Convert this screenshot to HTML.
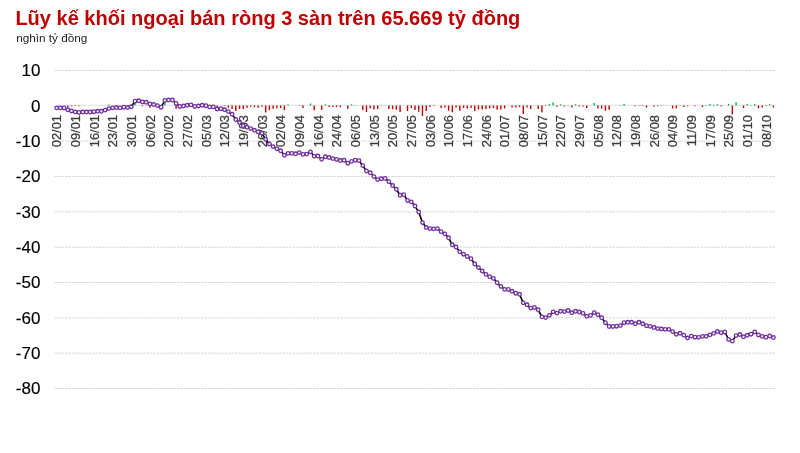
<!DOCTYPE html>
<html lang="vi"><head><meta charset="utf-8"><title>Lũy kế khối ngoại bán ròng</title>
<style>html,body{margin:0;padding:0;background:#fff}body{width:800px;height:453px;overflow:hidden}svg{display:block}</style>
</head><body>
<svg width="800" height="453" viewBox="0 0 800 453">
<rect width="800" height="453" fill="#fff"/>
<g stroke="#d5d5d5" stroke-width="1" stroke-dasharray="2.4 1" fill="none">
<path d="M54.8 70.50H775.3"/>
<path d="M54.8 141.16H775.3"/>
<path d="M54.8 176.50H775.3"/>
<path d="M54.8 211.83H775.3"/>
<path d="M54.8 247.16H775.3"/>
<path d="M54.8 282.50H775.3"/>
<path d="M54.8 317.83H775.3"/>
<path d="M54.8 353.16H775.3"/>
<path d="M54.8 388.49H775.3"/>
</g>
<path d="M56 105.25H775.3" stroke="#d4d4d4" stroke-width="0.7" fill="none"/>
<g font-family="'Liberation Sans', Arial, Helvetica, sans-serif" font-size="17" fill="#000" stroke="#000" stroke-width="0.15" text-anchor="end">
<text x="40.4" y="76.40">10</text>
<text x="40.4" y="111.73">0</text>
<text x="40.4" y="147.06">-10</text>
<text x="40.4" y="182.40">-20</text>
<text x="40.4" y="217.73">-30</text>
<text x="40.4" y="253.06">-40</text>
<text x="40.4" y="288.39">-50</text>
<text x="40.4" y="323.73">-60</text>
<text x="40.4" y="359.06">-70</text>
<text x="40.4" y="394.39">-80</text>
</g>
<g font-family="'Liberation Sans', Arial, Helvetica, sans-serif" font-size="12.9" fill="#3a3a3a" stroke="#3a3a3a" stroke-width="0.25" text-anchor="end">
<text transform="translate(61.35 115.0) rotate(-90)">02/01</text>
<text transform="translate(80.02 115.0) rotate(-90)">09/01</text>
<text transform="translate(98.68 115.0) rotate(-90)">16/01</text>
<text transform="translate(117.35 115.0) rotate(-90)">23/01</text>
<text transform="translate(136.02 115.0) rotate(-90)">30/01</text>
<text transform="translate(154.69 115.0) rotate(-90)">06/02</text>
<text transform="translate(173.35 115.0) rotate(-90)">20/02</text>
<text transform="translate(192.02 115.0) rotate(-90)">27/02</text>
<text transform="translate(210.69 115.0) rotate(-90)">05/03</text>
<text transform="translate(229.35 115.0) rotate(-90)">12/03</text>
<text transform="translate(248.02 115.0) rotate(-90)">19/03</text>
<text transform="translate(266.69 115.0) rotate(-90)">26/03</text>
<text transform="translate(285.35 115.0) rotate(-90)">02/04</text>
<text transform="translate(304.02 115.0) rotate(-90)">09/04</text>
<text transform="translate(322.69 115.0) rotate(-90)">16/04</text>
<text transform="translate(341.36 115.0) rotate(-90)">24/04</text>
<text transform="translate(360.02 115.0) rotate(-90)">06/05</text>
<text transform="translate(378.69 115.0) rotate(-90)">13/05</text>
<text transform="translate(397.36 115.0) rotate(-90)">20/05</text>
<text transform="translate(416.02 115.0) rotate(-90)">27/05</text>
<text transform="translate(434.69 115.0) rotate(-90)">03/06</text>
<text transform="translate(453.36 115.0) rotate(-90)">10/06</text>
<text transform="translate(472.02 115.0) rotate(-90)">17/06</text>
<text transform="translate(490.69 115.0) rotate(-90)">24/06</text>
<text transform="translate(509.36 115.0) rotate(-90)">01/07</text>
<text transform="translate(528.02 115.0) rotate(-90)">08/07</text>
<text transform="translate(546.69 115.0) rotate(-90)">15/07</text>
<text transform="translate(565.36 115.0) rotate(-90)">22/07</text>
<text transform="translate(584.03 115.0) rotate(-90)">29/07</text>
<text transform="translate(602.69 115.0) rotate(-90)">05/08</text>
<text transform="translate(621.36 115.0) rotate(-90)">12/08</text>
<text transform="translate(640.03 115.0) rotate(-90)">19/08</text>
<text transform="translate(658.69 115.0) rotate(-90)">26/08</text>
<text transform="translate(677.36 115.0) rotate(-90)">04/09</text>
<text transform="translate(696.03 115.0) rotate(-90)">11/09</text>
<text transform="translate(714.70 115.0) rotate(-90)">17/09</text>
<text transform="translate(733.36 115.0) rotate(-90)">25/09</text>
<text transform="translate(752.03 115.0) rotate(-90)">01/10</text>
<text transform="translate(770.70 115.0) rotate(-90)">08/10</text>
</g>
<path d="M67.10 105.5h1.4v1.80h-1.4zM70.83 105.5h1.4v0.70h-1.4zM74.57 105.5h1.4v0.60h-1.4zM78.30 105.5h1.4v0.70h-1.4zM141.77 105.5h1.4v0.80h-1.4zM149.24 105.5h1.4v2.30h-1.4zM175.37 105.5h1.4v3.30h-1.4zM216.44 105.5h1.4v1.80h-1.4zM223.90 105.5h1.4v0.50h-1.4zM227.64 105.5h1.4v2.20h-1.4zM231.37 105.5h1.4v3.50h-1.4zM235.10 105.5h1.4v5.50h-1.4zM238.84 105.5h1.4v3.50h-1.4zM242.57 105.5h1.4v3.50h-1.4zM246.30 105.5h1.4v2.20h-1.4zM250.04 105.5h1.4v1.20h-1.4zM253.77 105.5h1.4v1.70h-1.4zM257.50 105.5h1.4v2.20h-1.4zM261.24 105.5h1.4v1.20h-1.4zM264.97 105.5h1.4v6.90h-1.4zM268.70 105.5h1.4v4.70h-1.4zM272.44 105.5h1.4v3.20h-1.4zM276.17 105.5h1.4v2.70h-1.4zM279.90 105.5h1.4v2.40h-1.4zM283.64 105.5h1.4v4.70h-1.4zM302.30 105.5h1.4v2.50h-1.4zM313.50 105.5h1.4v4.80h-1.4zM320.97 105.5h1.4v4.40h-1.4zM328.44 105.5h1.4v1.40h-1.4zM332.17 105.5h1.4v1.40h-1.4zM335.91 105.5h1.4v1.40h-1.4zM339.64 105.5h1.4v1.80h-1.4zM347.11 105.5h1.4v3.30h-1.4zM362.04 105.5h1.4v4.60h-1.4zM365.77 105.5h1.4v6.50h-1.4zM369.51 105.5h1.4v2.70h-1.4zM373.24 105.5h1.4v4.00h-1.4zM376.97 105.5h1.4v3.40h-1.4zM388.17 105.5h1.4v3.40h-1.4zM391.91 105.5h1.4v3.75h-1.4zM395.64 105.5h1.4v4.20h-1.4zM399.37 105.5h1.4v6.50h-1.4zM406.84 105.5h1.4v5.50h-1.4zM410.57 105.5h1.4v2.50h-1.4zM414.31 105.5h1.4v4.60h-1.4zM418.04 105.5h1.4v6.20h-1.4zM421.77 105.5h1.4v10.50h-1.4zM425.51 105.5h1.4v5.50h-1.4zM429.24 105.5h1.4v1.50h-1.4zM432.97 105.5h1.4v0.40h-1.4zM440.44 105.5h1.4v2.40h-1.4zM444.17 105.5h1.4v2.10h-1.4zM447.91 105.5h1.4v5.25h-1.4zM451.64 105.5h1.4v6.75h-1.4zM455.37 105.5h1.4v2.10h-1.4zM459.11 105.5h1.4v5.25h-1.4zM462.84 105.5h1.4v2.50h-1.4zM466.57 105.5h1.4v3.00h-1.4zM470.31 105.5h1.4v2.50h-1.4zM474.04 105.5h1.4v5.50h-1.4zM477.77 105.5h1.4v4.00h-1.4zM481.51 105.5h1.4v4.00h-1.4zM485.24 105.5h1.4v3.40h-1.4zM488.97 105.5h1.4v2.75h-1.4zM492.71 105.5h1.4v2.50h-1.4zM496.44 105.5h1.4v4.25h-1.4zM500.17 105.5h1.4v4.00h-1.4zM503.91 105.5h1.4v3.10h-1.4zM511.37 105.5h1.4v1.90h-1.4zM515.11 105.5h1.4v1.90h-1.4zM518.84 105.5h1.4v1.50h-1.4zM522.57 105.5h1.4v8.60h-1.4zM526.31 105.5h1.4v1.90h-1.4zM530.04 105.5h1.4v3.60h-1.4zM537.51 105.5h1.4v3.40h-1.4zM541.24 105.5h1.4v6.70h-1.4zM544.98 105.5h1.4v0.50h-1.4zM556.18 105.5h1.4v1.25h-1.4zM563.64 105.5h1.4v0.90h-1.4zM571.11 105.5h1.4v2.10h-1.4zM578.58 105.5h1.4v1.10h-1.4zM582.31 105.5h1.4v1.10h-1.4zM586.04 105.5h1.4v2.50h-1.4zM597.24 105.5h1.4v3.10h-1.4zM600.98 105.5h1.4v3.10h-1.4zM604.71 105.5h1.4v5.25h-1.4zM608.44 105.5h1.4v4.25h-1.4zM634.58 105.5h1.4v0.80h-1.4zM642.04 105.5h1.4v0.60h-1.4zM645.78 105.5h1.4v2.00h-1.4zM653.24 105.5h1.4v1.20h-1.4zM656.98 105.5h1.4v0.70h-1.4zM660.71 105.5h1.4v0.50h-1.4zM671.91 105.5h1.4v3.10h-1.4zM675.64 105.5h1.4v2.70h-1.4zM683.11 105.5h1.4v1.50h-1.4zM686.84 105.5h1.4v0.70h-1.4zM694.31 105.5h1.4v0.80h-1.4zM701.78 105.5h1.4v1.50h-1.4zM720.45 105.5h1.4v1.00h-1.4zM731.65 105.5h1.4v9.00h-1.4zM742.85 105.5h1.4v2.40h-1.4zM757.78 105.5h1.4v2.80h-1.4zM761.51 105.5h1.4v2.00h-1.4zM765.25 105.5h1.4v0.60h-1.4zM772.71 105.5h1.4v1.90h-1.4z" fill="#c00000"/>
<path d="M108.17 105.5h1.4v-1.00h-1.4zM134.30 105.5h1.4v-5.00h-1.4zM164.17 105.5h1.4v-6.00h-1.4zM287.37 105.5h1.4v-1.10h-1.4zM298.57 105.5h1.4v-0.50h-1.4zM309.77 105.5h1.4v-2.00h-1.4zM324.70 105.5h1.4v-1.20h-1.4zM350.84 105.5h1.4v-1.30h-1.4zM354.57 105.5h1.4v-0.50h-1.4zM380.71 105.5h1.4v-0.40h-1.4zM548.71 105.5h1.4v-1.60h-1.4zM552.44 105.5h1.4v-3.10h-1.4zM559.91 105.5h1.4v-1.25h-1.4zM567.38 105.5h1.4v-0.40h-1.4zM574.84 105.5h1.4v-1.25h-1.4zM593.51 105.5h1.4v-2.50h-1.4zM619.64 105.5h1.4v-0.50h-1.4zM623.38 105.5h1.4v-1.60h-1.4zM638.31 105.5h1.4v-0.40h-1.4zM679.38 105.5h1.4v-0.50h-1.4zM705.51 105.5h1.4v-0.60h-1.4zM709.25 105.5h1.4v-1.40h-1.4zM712.98 105.5h1.4v-0.70h-1.4zM716.71 105.5h1.4v-1.20h-1.4zM727.91 105.5h1.4v-1.50h-1.4zM735.38 105.5h1.4v-3.20h-1.4zM746.58 105.5h1.4v-1.50h-1.4zM750.31 105.5h1.4v-0.50h-1.4zM754.05 105.5h1.4v-1.50h-1.4zM768.98 105.5h1.4v-1.20h-1.4z" fill="#00b050"/>
<polyline points="56.60,107.83 60.33,107.83 64.07,107.98 67.80,109.78 71.53,110.98 75.27,111.88 79.00,112.48 82.73,112.03 86.47,112.03 90.20,112.03 93.93,111.73 97.67,111.28 101.40,111.28 105.13,110.08 108.87,108.58 112.60,107.83 116.33,107.53 120.07,107.83 123.80,107.23 127.53,107.53 131.27,106.78 135.00,101.22 138.73,100.77 142.47,101.97 146.20,102.27 149.94,103.92 153.67,104.52 157.40,105.58 161.14,107.23 164.87,100.47 168.60,100.02 172.34,100.02 176.07,103.47 179.80,106.48 183.54,106.03 187.27,105.28 191.00,104.82 194.74,106.48 198.47,106.03 202.20,105.28 205.94,105.73 209.67,106.93 213.40,106.93 217.14,109.03 220.87,108.73 224.60,109.78 228.34,111.58 232.07,114.29 235.80,119.54 239.54,122.55 243.27,125.69 247.00,127.27 250.74,128.62 254.47,130.27 258.20,131.92 261.94,133.34 265.67,139.35 269.40,144.01 273.14,146.56 276.87,148.81 280.60,150.76 284.34,155.27 288.07,153.32 291.80,153.32 295.54,153.77 299.27,152.57 303.00,154.37 306.74,154.07 310.47,151.81 314.20,156.32 317.94,156.02 321.67,159.32 325.40,156.77 329.14,157.52 332.87,158.57 336.61,159.47 340.34,160.53 344.07,160.28 347.81,163.21 351.54,161.41 355.27,160.21 359.01,160.66 362.74,165.59 366.47,171.00 370.21,172.80 373.94,176.56 377.67,179.56 381.41,178.76 385.14,178.39 388.87,181.69 392.61,185.52 396.34,189.27 400.07,195.28 403.81,194.68 407.54,200.49 411.27,201.84 415.01,206.05 418.74,212.05 422.47,222.57 426.21,227.52 429.94,228.57 433.67,228.87 437.41,228.57 441.14,231.65 444.87,233.82 448.61,237.80 452.34,244.78 456.07,247.03 459.81,251.84 463.54,254.24 467.27,256.50 471.01,258.75 474.74,264.01 478.47,267.61 482.21,271.04 485.94,274.34 489.67,276.67 493.41,278.39 497.14,282.75 500.87,286.43 504.61,289.33 508.34,289.48 512.07,291.28 515.81,293.24 519.54,294.29 523.27,302.85 527.01,304.80 530.74,308.10 534.48,307.50 538.21,309.76 541.94,316.81 545.68,317.57 549.41,315.31 553.14,311.86 556.88,313.06 560.61,311.26 564.34,311.56 568.08,310.51 571.81,312.76 575.54,311.26 579.28,312.01 583.01,313.32 586.74,316.32 590.48,315.42 594.21,312.57 597.94,314.67 601.68,317.78 605.41,322.74 609.14,326.50 612.88,326.50 616.61,326.20 620.34,325.59 624.08,322.74 627.81,322.29 631.54,322.29 635.28,323.79 639.01,322.29 642.74,323.79 646.48,325.74 650.21,326.35 653.94,327.55 657.68,328.60 661.41,329.05 665.14,329.35 668.88,329.35 672.61,331.60 676.34,334.31 680.08,333.30 683.81,335.18 687.54,338.03 691.28,336.15 695.01,337.20 698.74,337.35 702.48,336.35 706.21,336.35 709.95,334.84 713.68,333.34 717.41,331.54 721.15,332.74 724.88,331.99 728.61,339.50 732.35,341.00 736.08,335.59 739.81,334.54 743.55,336.80 747.28,335.29 751.01,334.24 754.75,331.99 758.48,334.99 762.21,336.35 765.95,337.25 769.68,336.05 773.41,337.55" fill="none" stroke="#000" stroke-width="1.6" stroke-linejoin="round"/>
<g fill="#fff" stroke="#7030a0" stroke-width="1.3">
<circle cx="56.60" cy="107.83" r="1.78"/>
<circle cx="60.33" cy="107.83" r="1.78"/>
<circle cx="64.07" cy="107.98" r="1.78"/>
<circle cx="67.80" cy="109.78" r="1.78"/>
<circle cx="71.53" cy="110.98" r="1.78"/>
<circle cx="75.27" cy="111.88" r="1.78"/>
<circle cx="79.00" cy="112.48" r="1.78"/>
<circle cx="82.73" cy="112.03" r="1.78"/>
<circle cx="86.47" cy="112.03" r="1.78"/>
<circle cx="90.20" cy="112.03" r="1.78"/>
<circle cx="93.93" cy="111.73" r="1.78"/>
<circle cx="97.67" cy="111.28" r="1.78"/>
<circle cx="101.40" cy="111.28" r="1.78"/>
<circle cx="105.13" cy="110.08" r="1.78"/>
<circle cx="108.87" cy="108.58" r="1.78"/>
<circle cx="112.60" cy="107.83" r="1.78"/>
<circle cx="116.33" cy="107.53" r="1.78"/>
<circle cx="120.07" cy="107.83" r="1.78"/>
<circle cx="123.80" cy="107.23" r="1.78"/>
<circle cx="127.53" cy="107.53" r="1.78"/>
<circle cx="131.27" cy="106.78" r="1.78"/>
<circle cx="135.00" cy="101.22" r="1.78"/>
<circle cx="138.73" cy="100.77" r="1.78"/>
<circle cx="142.47" cy="101.97" r="1.78"/>
<circle cx="146.20" cy="102.27" r="1.78"/>
<circle cx="149.94" cy="103.92" r="1.78"/>
<circle cx="153.67" cy="104.52" r="1.78"/>
<circle cx="157.40" cy="105.58" r="1.78"/>
<circle cx="161.14" cy="107.23" r="1.78"/>
<circle cx="164.87" cy="100.47" r="1.78"/>
<circle cx="168.60" cy="100.02" r="1.78"/>
<circle cx="172.34" cy="100.02" r="1.78"/>
<circle cx="176.07" cy="103.47" r="1.78"/>
<circle cx="179.80" cy="106.48" r="1.78"/>
<circle cx="183.54" cy="106.03" r="1.78"/>
<circle cx="187.27" cy="105.28" r="1.78"/>
<circle cx="191.00" cy="104.82" r="1.78"/>
<circle cx="194.74" cy="106.48" r="1.78"/>
<circle cx="198.47" cy="106.03" r="1.78"/>
<circle cx="202.20" cy="105.28" r="1.78"/>
<circle cx="205.94" cy="105.73" r="1.78"/>
<circle cx="209.67" cy="106.93" r="1.78"/>
<circle cx="213.40" cy="106.93" r="1.78"/>
<circle cx="217.14" cy="109.03" r="1.78"/>
<circle cx="220.87" cy="108.73" r="1.78"/>
<circle cx="224.60" cy="109.78" r="1.78"/>
<circle cx="228.34" cy="111.58" r="1.78"/>
<circle cx="232.07" cy="114.29" r="1.78"/>
<circle cx="235.80" cy="119.54" r="1.78"/>
<circle cx="239.54" cy="122.55" r="1.78"/>
<circle cx="243.27" cy="125.69" r="1.78"/>
<circle cx="247.00" cy="127.27" r="1.78"/>
<circle cx="250.74" cy="128.62" r="1.78"/>
<circle cx="254.47" cy="130.27" r="1.78"/>
<circle cx="258.20" cy="131.92" r="1.78"/>
<circle cx="261.94" cy="133.34" r="1.78"/>
<circle cx="265.67" cy="139.35" r="1.78"/>
<circle cx="269.40" cy="144.01" r="1.78"/>
<circle cx="273.14" cy="146.56" r="1.78"/>
<circle cx="276.87" cy="148.81" r="1.78"/>
<circle cx="280.60" cy="150.76" r="1.78"/>
<circle cx="284.34" cy="155.27" r="1.78"/>
<circle cx="288.07" cy="153.32" r="1.78"/>
<circle cx="291.80" cy="153.32" r="1.78"/>
<circle cx="295.54" cy="153.77" r="1.78"/>
<circle cx="299.27" cy="152.57" r="1.78"/>
<circle cx="303.00" cy="154.37" r="1.78"/>
<circle cx="306.74" cy="154.07" r="1.78"/>
<circle cx="310.47" cy="151.81" r="1.78"/>
<circle cx="314.20" cy="156.32" r="1.78"/>
<circle cx="317.94" cy="156.02" r="1.78"/>
<circle cx="321.67" cy="159.32" r="1.78"/>
<circle cx="325.40" cy="156.77" r="1.78"/>
<circle cx="329.14" cy="157.52" r="1.78"/>
<circle cx="332.87" cy="158.57" r="1.78"/>
<circle cx="336.61" cy="159.47" r="1.78"/>
<circle cx="340.34" cy="160.53" r="1.78"/>
<circle cx="344.07" cy="160.28" r="1.78"/>
<circle cx="347.81" cy="163.21" r="1.78"/>
<circle cx="351.54" cy="161.41" r="1.78"/>
<circle cx="355.27" cy="160.21" r="1.78"/>
<circle cx="359.01" cy="160.66" r="1.78"/>
<circle cx="362.74" cy="165.59" r="1.78"/>
<circle cx="366.47" cy="171.00" r="1.78"/>
<circle cx="370.21" cy="172.80" r="1.78"/>
<circle cx="373.94" cy="176.56" r="1.78"/>
<circle cx="377.67" cy="179.56" r="1.78"/>
<circle cx="381.41" cy="178.76" r="1.78"/>
<circle cx="385.14" cy="178.39" r="1.78"/>
<circle cx="388.87" cy="181.69" r="1.78"/>
<circle cx="392.61" cy="185.52" r="1.78"/>
<circle cx="396.34" cy="189.27" r="1.78"/>
<circle cx="400.07" cy="195.28" r="1.78"/>
<circle cx="403.81" cy="194.68" r="1.78"/>
<circle cx="407.54" cy="200.49" r="1.78"/>
<circle cx="411.27" cy="201.84" r="1.78"/>
<circle cx="415.01" cy="206.05" r="1.78"/>
<circle cx="418.74" cy="212.05" r="1.78"/>
<circle cx="422.47" cy="222.57" r="1.78"/>
<circle cx="426.21" cy="227.52" r="1.78"/>
<circle cx="429.94" cy="228.57" r="1.78"/>
<circle cx="433.67" cy="228.87" r="1.78"/>
<circle cx="437.41" cy="228.57" r="1.78"/>
<circle cx="441.14" cy="231.65" r="1.78"/>
<circle cx="444.87" cy="233.82" r="1.78"/>
<circle cx="448.61" cy="237.80" r="1.78"/>
<circle cx="452.34" cy="244.78" r="1.78"/>
<circle cx="456.07" cy="247.03" r="1.78"/>
<circle cx="459.81" cy="251.84" r="1.78"/>
<circle cx="463.54" cy="254.24" r="1.78"/>
<circle cx="467.27" cy="256.50" r="1.78"/>
<circle cx="471.01" cy="258.75" r="1.78"/>
<circle cx="474.74" cy="264.01" r="1.78"/>
<circle cx="478.47" cy="267.61" r="1.78"/>
<circle cx="482.21" cy="271.04" r="1.78"/>
<circle cx="485.94" cy="274.34" r="1.78"/>
<circle cx="489.67" cy="276.67" r="1.78"/>
<circle cx="493.41" cy="278.39" r="1.78"/>
<circle cx="497.14" cy="282.75" r="1.78"/>
<circle cx="500.87" cy="286.43" r="1.78"/>
<circle cx="504.61" cy="289.33" r="1.78"/>
<circle cx="508.34" cy="289.48" r="1.78"/>
<circle cx="512.07" cy="291.28" r="1.78"/>
<circle cx="515.81" cy="293.24" r="1.78"/>
<circle cx="519.54" cy="294.29" r="1.78"/>
<circle cx="523.27" cy="302.85" r="1.78"/>
<circle cx="527.01" cy="304.80" r="1.78"/>
<circle cx="530.74" cy="308.10" r="1.78"/>
<circle cx="534.48" cy="307.50" r="1.78"/>
<circle cx="538.21" cy="309.76" r="1.78"/>
<circle cx="541.94" cy="316.81" r="1.78"/>
<circle cx="545.68" cy="317.57" r="1.78"/>
<circle cx="549.41" cy="315.31" r="1.78"/>
<circle cx="553.14" cy="311.86" r="1.78"/>
<circle cx="556.88" cy="313.06" r="1.78"/>
<circle cx="560.61" cy="311.26" r="1.78"/>
<circle cx="564.34" cy="311.56" r="1.78"/>
<circle cx="568.08" cy="310.51" r="1.78"/>
<circle cx="571.81" cy="312.76" r="1.78"/>
<circle cx="575.54" cy="311.26" r="1.78"/>
<circle cx="579.28" cy="312.01" r="1.78"/>
<circle cx="583.01" cy="313.32" r="1.78"/>
<circle cx="586.74" cy="316.32" r="1.78"/>
<circle cx="590.48" cy="315.42" r="1.78"/>
<circle cx="594.21" cy="312.57" r="1.78"/>
<circle cx="597.94" cy="314.67" r="1.78"/>
<circle cx="601.68" cy="317.78" r="1.78"/>
<circle cx="605.41" cy="322.74" r="1.78"/>
<circle cx="609.14" cy="326.50" r="1.78"/>
<circle cx="612.88" cy="326.50" r="1.78"/>
<circle cx="616.61" cy="326.20" r="1.78"/>
<circle cx="620.34" cy="325.59" r="1.78"/>
<circle cx="624.08" cy="322.74" r="1.78"/>
<circle cx="627.81" cy="322.29" r="1.78"/>
<circle cx="631.54" cy="322.29" r="1.78"/>
<circle cx="635.28" cy="323.79" r="1.78"/>
<circle cx="639.01" cy="322.29" r="1.78"/>
<circle cx="642.74" cy="323.79" r="1.78"/>
<circle cx="646.48" cy="325.74" r="1.78"/>
<circle cx="650.21" cy="326.35" r="1.78"/>
<circle cx="653.94" cy="327.55" r="1.78"/>
<circle cx="657.68" cy="328.60" r="1.78"/>
<circle cx="661.41" cy="329.05" r="1.78"/>
<circle cx="665.14" cy="329.35" r="1.78"/>
<circle cx="668.88" cy="329.35" r="1.78"/>
<circle cx="672.61" cy="331.60" r="1.78"/>
<circle cx="676.34" cy="334.31" r="1.78"/>
<circle cx="680.08" cy="333.30" r="1.78"/>
<circle cx="683.81" cy="335.18" r="1.78"/>
<circle cx="687.54" cy="338.03" r="1.78"/>
<circle cx="691.28" cy="336.15" r="1.78"/>
<circle cx="695.01" cy="337.20" r="1.78"/>
<circle cx="698.74" cy="337.35" r="1.78"/>
<circle cx="702.48" cy="336.35" r="1.78"/>
<circle cx="706.21" cy="336.35" r="1.78"/>
<circle cx="709.95" cy="334.84" r="1.78"/>
<circle cx="713.68" cy="333.34" r="1.78"/>
<circle cx="717.41" cy="331.54" r="1.78"/>
<circle cx="721.15" cy="332.74" r="1.78"/>
<circle cx="724.88" cy="331.99" r="1.78"/>
<circle cx="728.61" cy="339.50" r="1.78"/>
<circle cx="732.35" cy="341.00" r="1.78"/>
<circle cx="736.08" cy="335.59" r="1.78"/>
<circle cx="739.81" cy="334.54" r="1.78"/>
<circle cx="743.55" cy="336.80" r="1.78"/>
<circle cx="747.28" cy="335.29" r="1.78"/>
<circle cx="751.01" cy="334.24" r="1.78"/>
<circle cx="754.75" cy="331.99" r="1.78"/>
<circle cx="758.48" cy="334.99" r="1.78"/>
<circle cx="762.21" cy="336.35" r="1.78"/>
<circle cx="765.95" cy="337.25" r="1.78"/>
<circle cx="769.68" cy="336.05" r="1.78"/>
<circle cx="773.41" cy="337.55" r="1.78"/>
</g>
<text x="15.4" y="24.6" font-family="'Liberation Sans', Arial, Helvetica, sans-serif" font-weight="bold" font-size="20.02" fill="#c00000">Lũy kế khối ngoại bán ròng 3 sàn trên 65.669 tỷ đồng</text>
<text x="16.2" y="41.9" font-family="'Liberation Sans', Arial, Helvetica, sans-serif" font-size="11.75" fill="#222">nghìn tỷ đồng</text>
</svg>
</body></html>
